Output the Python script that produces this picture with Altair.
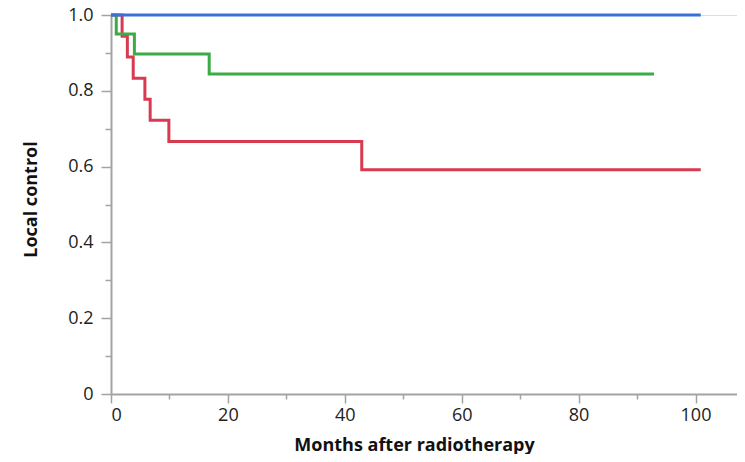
import altair as alt
import pandas as pd

# Kaplan-Meier style step data (months, local control)
blue_t = [0, 100.9]
blue_s = [1.0, 1.0]

green_t = [0, 0.9, 4.0, 16.8, 92.9]
green_s = [1.0, 0.95, 0.897, 0.844, 0.844]

red_t = [0, 1.9, 2.8, 3.8, 5.8, 6.7, 9.9, 42.9, 100.9]
red_s = [1.0, 0.944, 0.889, 0.833, 0.778, 0.722, 0.666, 0.592, 0.592]

x_ticks = [0, 10, 20, 30, 40, 50, 60, 70, 80, 90, 100]
y_ticks = [0, 0.1, 0.2, 0.3, 0.4, 0.5, 0.6, 0.7, 0.8, 0.9, 1.0]

colors = {"blue": "#3b6fd9", "green": "#3aab46", "red": "#d83b50"}

rows = []
for name, ts, ss in [("red", red_t, red_s), ("green", green_t, green_s), ("blue", blue_t, blue_s)]:
    for i, (t, s) in enumerate(zip(ts, ss)):
        rows.append({"series": name, "t": t, "s": s, "i": i})
df = pd.DataFrame(rows)

FONT = "Open Sans"
GRAY = "#a3a3a3"

x_enc = alt.X(
    "t:Q",
    scale=alt.Scale(domain=[0, 107.1], nice=False, zero=False),
    axis=alt.Axis(
        values=x_ticks,
        labelExpr="datum.value % 20 === 0 ? datum.label : ''",
        tickSize={"condition": {"test": "datum.value % 20 === 0", "value": 9}, "value": 5},
        tickColor=GRAY,
        tickWidth=1.5,
        domainColor=GRAY,
        domainWidth=2,
        grid=False,
        labelFont=FONT,
        labelFontSize=18,
        labelColor="#222222",
        labelPadding=3,
        title="Months after radiotherapy",
        titleFont=FONT,
        titleFontSize=18,
        titleFontWeight="bold",
        titleColor="#111111",
        titleX=303,
        titleY=56,
        titleAlign="center",
        titleBaseline="alphabetic",
    ),
)
y_enc = alt.Y(
    "s:Q",
    scale=alt.Scale(domain=[0, 1], nice=False),
    axis=alt.Axis(
        values=y_ticks,
        labelExpr="datum.value == 0 ? '0' : (round(datum.value * 10) % 2 == 0 ? format(datum.value, '.1f') : '')",
        tickSize={"condition": {"test": "round(datum.value * 10) % 2 == 0", "value": 10}, "value": 6},
        tickColor=GRAY,
        tickWidth=1.5,
        domainColor=GRAY,
        domainWidth=2,
        grid=False,
        labelFont=FONT,
        labelFontSize=18,
        labelColor="#222222",
        labelPadding=8,
        title="Local control",
        titleFont=FONT,
        titleFontSize=18,
        titleFontWeight="bold",
        titleColor="#111111",
        titleAngle=270,
        titleX=-80,
        titleY=184,
        titleAlign="center",
        titleBaseline="middle",
    ),
)

layers = []
for name in ["red", "green", "blue"]:
    layers.append(
        alt.Chart(df)
        .transform_filter(alt.datum.series == name)
        .mark_line(interpolate="step-after", strokeWidth=3, color=colors[name])
        .encode(x=x_enc, y=y_enc, order="i:Q")
    )

chart = (
    alt.layer(*layers)
    .properties(
        width=626,
        height=379,
        autosize="none",
        padding={"left": 103, "top": 7, "right": 0, "bottom": 60},
    )
    .configure_view(stroke=None)
    .configure(background="white")
)

chart.save("out.html", embed_options={"renderer": "svg", "actions": False})
